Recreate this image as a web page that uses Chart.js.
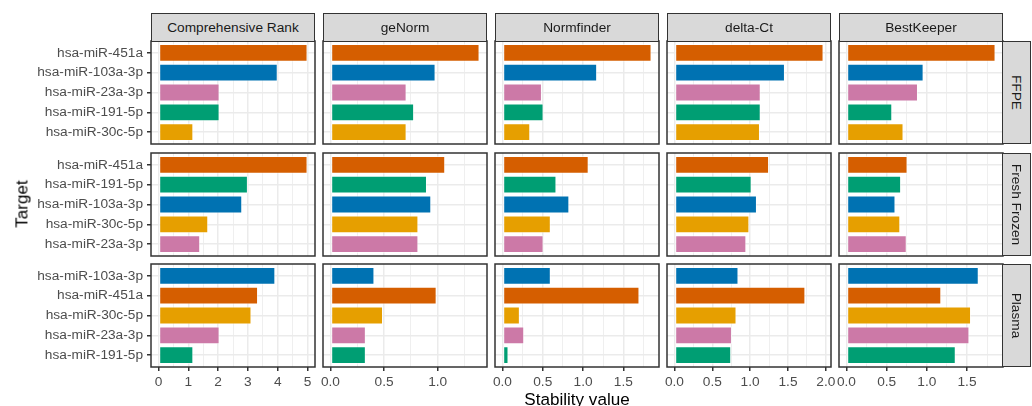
<!DOCTYPE html>
<html>
<head>
<meta charset="utf-8">
<script src="https://cdn.jsdelivr.net/npm/chart.js@4.4.0/dist/chart.umd.min.js"></script>
<style>
  body { margin: 0; background: #fff; width: 1032px; height: 406px; overflow: hidden; position: relative;
         font-family: "Liberation Sans", Arial, sans-serif; }
  .cell { position: absolute; }
  .strip { position: absolute; background: #D9D9D9; border: 1.5px solid #333; box-sizing: border-box;
           color: #1A1A1A; font-size: 13.7px; display: flex; align-items: center; justify-content: center; }
  .strip.side span { transform: rotate(90deg); white-space: nowrap; }
  .title { position: absolute; font-size: 17.1px; color: #000; line-height: 1; white-space: nowrap; }
</style>
</head>
<body>
<script>
const methods = ["Comprehensive Rank", "geNorm", "Normfinder", "delta-Ct", "BestKeeper"];
const tissues = ["FFPE", "Fresh Frozen", "Plasma"];

// targets of each row, top to bottom
const targetsFFPE = ["hsa-miR-451a", "hsa-miR-103a-3p", "hsa-miR-23a-3p", "hsa-miR-191-5p", "hsa-miR-30c-5p"];
const targetsFresh = ["hsa-miR-451a", "hsa-miR-191-5p", "hsa-miR-103a-3p", "hsa-miR-30c-5p", "hsa-miR-23a-3p"];
const targetsPlasma = ["hsa-miR-103a-3p", "hsa-miR-451a", "hsa-miR-30c-5p", "hsa-miR-23a-3p", "hsa-miR-191-5p"];

// stability values, same order as the targets above
const rankFFPE = [5, 4.0, 2.05, 2.05, 1.17];
const rankFresh = [5, 3.0, 2.81, 1.67, 1.40];
const rankPlasma = [3.92, 3.34, 3.12, 2.05, 1.17];

const genormFFPE = [1.39, 0.98, 0.71, 0.78, 0.71];
const genormFresh = [1.07, 0.90, 0.94, 0.82, 0.82];
const genormPlasma = [0.41, 0.99, 0.49, 0.33, 0.33];

const normfinderFFPE = [1.85, 1.175, 0.49, 0.51, 0.345];
const normfinderFresh = [1.07, 0.67, 0.83, 0.60, 0.51];
const normfinderPlasma = [0.60, 1.70, 0.216, 0.27, 0.075];

const deltaFFPE = [1.97, 1.46, 1.14, 1.14, 1.13];
const deltaFresh = [1.25, 1.02, 1.09, 0.99, 0.95];
const deltaPlasma = [0.846, 1.73, 0.82, 0.76, 0.75];

const bestFFPE = [1.855, 0.96, 0.89, 0.57, 0.71];
const bestFresh = [0.76, 0.68, 0.61, 0.67, 0.75];
const bestPlasma = [1.646, 1.18, 1.55, 1.53, 1.36];

// x tick labels of each column
const ticksRank = ["0", "1", "2", "3", "4", "5"];
const ticksGenorm = ["0.0", "0.5", "1.0"];
const ticksNormfinder = ["0.0", "0.5", "1.0", "1.5"];
const ticksDelta = ["0.0", "0.5", "1.0", "1.5", "2.0"];
const ticksBest = ["0.0", "0.5", "1.0", "1.5"];

const targetColors = {
  "hsa-miR-451a": "#D55E00",
  "hsa-miR-103a-3p": "#0072B2",
  "hsa-miR-23a-3p": "#CC79A7",
  "hsa-miR-191-5p": "#009E73",
  "hsa-miR-30c-5p": "#E69F00"
};

const targetsByRow = [targetsFFPE, targetsFresh, targetsPlasma];
const valuesByPanel = [
  [rankFFPE, genormFFPE, normfinderFFPE, deltaFFPE, bestFFPE],
  [rankFresh, genormFresh, normfinderFresh, deltaFresh, bestFresh],
  [rankPlasma, genormPlasma, normfinderPlasma, deltaPlasma, bestPlasma]
];
const ticksByCol = [ticksRank, ticksGenorm, ticksNormfinder, ticksDelta, ticksBest];

// layout
const panelLeft = [151, 323, 495, 667, 839];
const panelW = 164;
const panelTop = [41, 153, 264];
const panelH = 103;
const M = 12;
const FONT = "'Liberation Sans', Arial, sans-serif";

Chart.defaults.font.family = FONT;

const panelBorder = {
  id: "panelBorder",
  afterDraw(chart) {
    const a = chart.chartArea, c = chart.ctx;
    c.save();
    c.strokeStyle = "#333";
    c.lineWidth = 1.5;
    c.strokeRect(a.left, a.top, a.right - a.left, a.bottom - a.top);
    c.restore();
  }
};

function makePanel(row, col) {
  const cats = targetsByRow[row];
  const vals = valuesByPanel[row][col];
  const majors = ticksByCol[col].map(parseFloat);
  const step = majors[1] - majors[0];

  // free x scale per column, 5% expansion like ggplot
  const colMax = Math.max(...valuesByPanel.map(r => Math.max(...r[col])));
  const xMin = -0.05 * colMax, xMax = 1.05 * colMax;

  const minors = [];
  for (let i = 0; i < majors.length; i++) {
    const m = majors[i] + step / 2;
    if (m < xMax) minors.push(m);
  }
  const allTicks = majors.concat(minors).sort((a, b) => a - b);
  const isMajor = v => majors.some(m => Math.abs(m - v) < 1e-9);

  const left = col === 0 ? 0 : panelLeft[col] - M;
  const width = (col === 0 ? panelLeft[0] : M) + panelW + M;
  const top = panelTop[row] - M;
  const height = M + panelH + (row === 2 ? 40 : M);

  const div = document.createElement("div");
  div.className = "cell";
  div.style.left = left + "px";
  div.style.top = top + "px";
  div.style.width = width + "px";
  div.style.height = height + "px";
  const canvas = document.createElement("canvas");
  canvas.width = width;
  canvas.height = height;
  div.appendChild(canvas);
  document.body.appendChild(div);

  new Chart(canvas, {
    type: "bar",
    data: {
      datasets: [{
        data: cats.map((c, i) => ({ x: vals[i], y: i + 1 })),
        backgroundColor: cats.map(c => targetColors[c]),
        borderColor: "rgba(255,255,255,0.55)",
        borderWidth: 1,
        borderSkipped: false,
        barPercentage: 0.9,
        categoryPercentage: 1
      }]
    },
    options: {
      indexAxis: "y",
      responsive: false,
      animation: false,
      events: [],
      layout: { padding: { left: col === 0 ? 0 : M, right: M, top: M, bottom: row === 2 ? 0 : M } },
      plugins: { legend: { display: false }, tooltip: { enabled: false } },
      scales: {
        y: {
          type: "linear",
          reverse: true,
          min: 0.4,
          max: 5.6,
          offset: false,
          afterBuildTicks: s => { s.ticks = cats.map((c, i) => ({ value: i + 1 })); },
          afterFit: s => { s.width = col === 0 ? panelLeft[0] : 0; s.paddingTop = 0; s.paddingBottom = 0; },
          border: { display: false },
          grid: {
            offset: false,
            color: "#EBEBEB",
            lineWidth: 1.5,
            drawTicks: col === 0,
            tickLength: 4,
            tickColor: "#333",
            tickWidth: 1.5
          },
          ticks: {
            display: col === 0,
            autoSkip: false,
            padding: 4,
            color: "#4D4D4D",
            font: { size: 13.7 },
            callback: v => cats[Math.round(v) - 1]
          }
        },
        x: {
          type: "linear",
          min: xMin,
          max: xMax,
          afterBuildTicks: s => { s.ticks = allTicks.map(v => ({ value: v })); },
          afterFit: s => { s.height = row === 2 ? 40 : 0; s.paddingLeft = 0; s.paddingRight = 0; },
          border: { display: false },
          grid: {
            color: "#EBEBEB",
            lineWidth: ctx => (ctx.tick && isMajor(ctx.tick.value)) ? 1.5 : 0.8,
            drawTicks: row === 2,
            tickLength: 4,
            tickColor: ctx => (ctx.tick && isMajor(ctx.tick.value)) ? "#333" : "rgba(0,0,0,0)",
            tickWidth: 1.5
          },
          ticks: {
            display: row === 2,
            autoSkip: false,
            maxRotation: 0,
            minRotation: 0,
            padding: 3,
            color: "#4D4D4D",
            font: { size: 13.7 },
            callback: v => {
              const k = majors.findIndex(m => Math.abs(m - v) < 1e-9);
              return k >= 0 ? ticksByCol[col][k] : "";
            }
          }
        }
      }
    },
    plugins: [panelBorder]
  });
}

tissues.forEach((t, row) => methods.forEach((m, col) => makePanel(row, col)));

// facet strips
methods.forEach((m, col) => {
  const s = document.createElement("div");
  s.className = "strip";
  s.style.left = panelLeft[col] + "px";
  s.style.top = "13px";
  s.style.width = panelW + "px";
  s.style.height = "29px";
  s.textContent = m;
  document.body.appendChild(s);
});
tissues.forEach((t, row) => {
  const s = document.createElement("div");
  s.className = "strip side";
  s.style.left = (panelLeft[4] + panelW - 1) + "px";
  s.style.top = panelTop[row] + "px";
  s.style.width = "29px";
  s.style.height = panelH + "px";
  const sp = document.createElement("span");
  sp.textContent = t;
  s.appendChild(sp);
  document.body.appendChild(s);
});

// axis titles
const yTitle = document.createElement("div");
yTitle.className = "title";
yTitle.textContent = "Target";
yTitle.style.left = "22px";
yTitle.style.top = "204px";
yTitle.style.transform = "translate(-50%, -50%) rotate(-90deg)";
document.body.appendChild(yTitle);

const xTitle = document.createElement("div");
xTitle.className = "title";
xTitle.textContent = "Stability value";
xTitle.style.left = "577px";
xTitle.style.top = "391px";
xTitle.style.transform = "translateX(-50%)";
document.body.appendChild(xTitle);
</script>
</body>
</html>
